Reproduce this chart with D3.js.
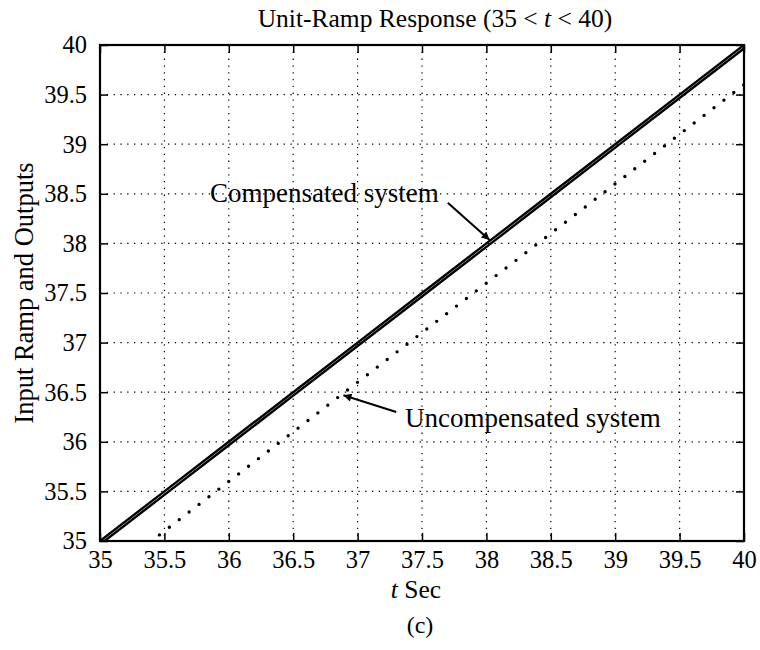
<!DOCTYPE html>
<html>
<head>
<meta charset="utf-8">
<script src="https://cdn.jsdelivr.net/npm/d3@7"></script>
<style>
  html, body { margin: 0; padding: 0; background: #fff; }
  svg { display: block; }
</style>
</head>
<body>
<div id="chart"></div>
<script>
// ---- data ----
const timeValues     = [35, 35.5, 36, 36.5, 37, 37.5, 38, 38.5, 39, 39.5, 40];
const inputRamp      = [35, 35.5, 36, 36.5, 37, 37.5, 38, 38.5, 39, 39.5, 40];
const compensated    = [34.965, 35.465, 35.965, 36.465, 36.965, 37.465, 37.965, 38.465, 38.965, 39.465, 39.965];
const uncompensated  = [34.6, 35.1, 35.6, 36.1, 36.6, 37.1, 37.6, 38.1, 38.6, 39.1, 39.6];
const xTicks = [35, 35.5, 36, 36.5, 37, 37.5, 38, 38.5, 39, 39.5, 40];
const yTicks = [35, 35.5, 36, 36.5, 37, 37.5, 38, 38.5, 39, 39.5, 40];
const xLabelText = "Sec";
const yLabelText = "Input Ramp and Outputs";
const captionText = "(c)";
const labelComp = "Compensated system";
const labelUncomp = "Uncompensated system";

// ---- layout ----
const W = 760, H = 650;
const margin = { left: 100, right: 16, top: 45, bottom: 109 };
const pw = W - margin.left - margin.right;   // 644
const ph = H - margin.top - margin.bottom;   // 496
const FONT = "'Liberation Serif', 'Times New Roman', serif";

const svg = d3.select("#chart").append("svg").attr("width", W).attr("height", H)
  .attr("font-family", FONT);

const x = d3.scaleLinear().domain([35, 40]).range([margin.left, margin.left + pw]);
const y = d3.scaleLinear().domain([35, 40]).range([margin.top + ph, margin.top]);

const defs = svg.append("defs");
defs.append("clipPath").attr("id", "clip")
  .append("rect").attr("x", margin.left).attr("y", margin.top).attr("width", pw).attr("height", ph);

// grid
const grid = svg.append("g");
grid.selectAll("line.gx").data(xTicks.slice(1, -1)).enter().append("line")
  .attr("x1", d => x(d)).attr("x2", d => x(d))
  .attr("y1", margin.top).attr("y2", margin.top + ph)
  .attr("stroke", "#000").attr("stroke-width", 1.2).attr("stroke-dasharray", "1.3,5.5");
grid.selectAll("line.gy").data(yTicks.slice(1, -1)).enter().append("line")
  .attr("y1", d => y(d)).attr("y2", d => y(d))
  .attr("x1", margin.left).attr("x2", margin.left + pw)
  .attr("stroke", "#000").attr("stroke-width", 1.2).attr("stroke-dasharray", "1.3,5.5");

// axes with inner ticks
const tickLen = 8;
const axB = svg.append("g").attr("transform", `translate(0,${margin.top + ph})`)
  .call(d3.axisBottom(x).tickValues(xTicks).tickSize(-tickLen).tickPadding(tickLen + 2).tickFormat(d3.format("")));
const axT = svg.append("g").attr("transform", `translate(0,${margin.top})`)
  .call(d3.axisTop(x).tickValues(xTicks).tickSize(-tickLen).tickFormat(""));
const axL = svg.append("g").attr("transform", `translate(${margin.left},0)`)
  .call(d3.axisLeft(y).tickValues(yTicks).tickSize(-tickLen).tickPadding(tickLen + 5).tickFormat(d3.format("")));
const axR = svg.append("g").attr("transform", `translate(${margin.left + pw},0)`)
  .call(d3.axisRight(y).tickValues(yTicks).tickSize(-tickLen).tickFormat(""));
[axB, axT, axL, axR].forEach(a => {
  a.attr("font-family", FONT).attr("font-size", 24.5);
  a.select(".domain").remove();
  a.selectAll(".tick line").attr("stroke", "#000").attr("stroke-width", 1.5);
  a.selectAll("text").attr("fill", "#000");
});

// box
svg.append("rect").attr("x", margin.left).attr("y", margin.top).attr("width", pw).attr("height", ph)
  .attr("fill", "none").attr("stroke", "#000").attr("stroke-width", 2.2);

// lines
const plot = svg.append("g").attr("clip-path", "url(#clip)");
const lineOf = vals => d3.line().x((d, i) => x(timeValues[i])).y(d => y(d))(vals);

plot.append("path").attr("d", lineOf(inputRamp))
  .attr("fill", "none").attr("stroke", "#000").attr("stroke-width", 2.4);
plot.append("path").attr("d", lineOf(compensated))
  .attr("fill", "none").attr("stroke", "#000").attr("stroke-width", 2.4);
plot.append("path").attr("d", lineOf(uncompensated))
  .attr("fill", "none").attr("stroke", "#000").attr("stroke-width", 3.4)
  .attr("stroke-linecap", "round").attr("stroke-dasharray", "0,12.5");

// annotations
defs.append("marker").attr("id", "arrow")
  .attr("viewBox", "0 0 10 10").attr("refX", 10).attr("refY", 5)
  .attr("markerWidth", 13).attr("markerHeight", 8).attr("markerUnits", "userSpaceOnUse")
  .attr("orient", "auto")
  .append("path").attr("d", "M0,0 L10,5 L0,10 Z").attr("fill", "#000");

const annComp = { tx: 35.854, ty: 38.417, ax1: 37.70, ay1: 38.41, ax2: 38.025, ay2: 38.035 };
const annUnc  = { tx: 37.368, ty: 36.149, ax1: 37.30, ay1: 36.30, ax2: 36.89, ay2: 36.47 };

svg.append("text").attr("x", x(annComp.tx)).attr("y", y(annComp.ty))
  .attr("font-size", 27).text(labelComp);
svg.append("line").attr("x1", x(annComp.ax1)).attr("y1", y(annComp.ay1))
  .attr("x2", x(annComp.ax2)).attr("y2", y(annComp.ay2))
  .attr("stroke", "#000").attr("stroke-width", 2).attr("marker-end", "url(#arrow)");

svg.append("text").attr("x", x(annUnc.tx)).attr("y", y(annUnc.ty))
  .attr("font-size", 27).text(labelUncomp);
svg.append("line").attr("x1", x(annUnc.ax1)).attr("y1", y(annUnc.ay1))
  .attr("x2", x(annUnc.ax2)).attr("y2", y(annUnc.ay2))
  .attr("stroke", "#000").attr("stroke-width", 2).attr("marker-end", "url(#arrow)");

// title
const tt = svg.append("text").attr("x", 435).attr("y", 27)
  .attr("text-anchor", "middle").attr("font-size", 25.5);
tt.append("tspan").text("Unit-Ramp Response (35 < ");
tt.append("tspan").attr("font-style", "italic").text("t");
tt.append("tspan").text(" < 40)");

// x label
const xl = svg.append("text").attr("x", 416).attr("y", 598)
  .attr("text-anchor", "middle").attr("font-size", 25.5);
xl.append("tspan").attr("font-style", "italic").text("t");
xl.append("tspan").text(" " + xLabelText);

// y label
svg.append("text").attr("transform", `translate(33,${margin.top + ph / 2}) rotate(-90)`)
  .attr("text-anchor", "middle").attr("font-size", 26.5).text(yLabelText);

// caption
svg.append("text").attr("x", 420).attr("y", 633).attr("text-anchor", "middle")
  .attr("font-size", 24).text(captionText);
</script>
</body>
</html>
